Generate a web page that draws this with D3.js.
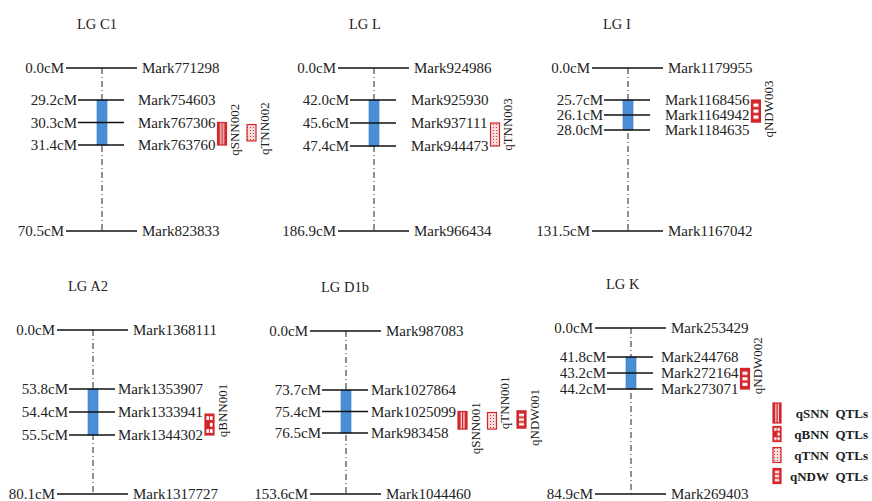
<!DOCTYPE html>
<html>
<head>
<meta charset="utf-8">
<script src="https://cdn.jsdelivr.net/npm/d3@7"></script>
<style>
  html, body { margin: 0; padding: 0; background: #fff; }
  svg { display: block; }
  text { font-family: "Liberation Serif", "Times New Roman", serif; fill: #222; }
</style>
</head>
<body>
<svg id="map" width="872" height="501"></svg>
<script>
// Linkage groups and their anchor markers (position in cM, marker name)
const groupTitles = ["LG C1", "LG L", "LG I", "LG A2", "LG D1b", "LG K"];
const markerCM = [
  [0.0, 29.2, 30.3, 31.4, 70.5],
  [0.0, 42.0, 45.6, 47.4, 186.9],
  [0.0, 25.7, 26.1, 28.0, 131.5],
  [0.0, 53.8, 54.4, 55.5, 80.1],
  [0.0, 73.7, 75.4, 76.5, 153.6],
  [0.0, 41.8, 43.2, 44.2, 84.9]
];
const markerNames = [
  ["Mark771298", "Mark754603", "Mark767306", "Mark763760", "Mark823833"],
  ["Mark924986", "Mark925930", "Mark937111", "Mark944473", "Mark966434"],
  ["Mark1179955", "Mark1168456", "Mark1164942", "Mark1184635", "Mark1167042"],
  ["Mark1368111", "Mark1353907", "Mark1333941", "Mark1344302", "Mark1317727"],
  ["Mark987083", "Mark1027864", "Mark1025099", "Mark983458", "Mark1044460"],
  ["Mark253429", "Mark244768", "Mark272164", "Mark273071", "Mark269403"]
];

// QTLs: name, linkage group index, trait, interval (cM)
const qtlNames = ["qSNN002", "qTNN002", "qTNN003", "qNDW003", "qBNN001", "qSNN001", "qTNN001", "qNDW001", "qNDW002"];
const qtlGroup = [0, 0, 1, 2, 3, 4, 4, 4, 5];
const qtlTrait = ["qSNN", "qTNN", "qTNN", "qNDW", "qBNN", "qSNN", "qTNN", "qNDW", "qNDW"];
const qtlFrom  = [30.3, 30.4, 45.6, 25.7, 54.5, 75.4, 75.45, 75.35, 42.8];
const qtlTo    = [31.4, 31.2, 47.4, 27.0, 55.5, 76.3, 76.3, 76.25, 44.2];

const traits = ["qSNN", "qBNN", "qTNN", "qNDW"];
const legendLabels = ["qSNN\u00a0\u00a0QTLs", "qBNN\u00a0\u00a0QTLs", "qTNN\u00a0\u00a0QTLs", "qNDW\u00a0\u00a0QTLs"];

// Panel layout: chromosome axis x, top/bottom marker y, offset of the first
// flanking marker, height of the marker cluster, gap before middle labels
const layout = [
  { x: 102, top: 68,  bottom: 231, gap: 32, span: 45, labelGap: 14 },
  { x: 374, top: 68,  bottom: 231, gap: 32, span: 46, labelGap: 15 },
  { x: 628, top: 68,  bottom: 231, gap: 32, span: 30, labelGap: 15 },
  { x: 93,  top: 330, bottom: 494, gap: 59, span: 46, labelGap: 3 },
  { x: 346, top: 331, bottom: 494, gap: 59, span: 43, labelGap: 3 },
  { x: 631, top: 328, bottom: 494, gap: 29, span: 32, labelGap: 8 }
];
const qtlLabelShift = { qSNN002: -4, qTNN002: -4, qTNN003: -10, qNDW003: -2, qBNN001: -14,
                        qSNN001: 8, qTNN001: -18, qNDW001: -2, qNDW002: -13 };

const RED = "#d3262b";
const BLUE = "#4a8fd5";

const svg = d3.select("#map");
const defs = svg.append("defs");

// Fill patterns for the four QTL traits
const pSNN = defs.append("pattern").attr("id", "pat-qSNN").attr("width", 1).attr("height", 1)
  .attr("patternContentUnits", "objectBoundingBox");
pSNN.append("rect").attr("width", 1).attr("height", 1).attr("fill", RED);
[0.3, 0.6].forEach(x => pSNN.append("rect").attr("x", x).attr("width", 0.12).attr("height", 1).attr("fill", "#fff"));

const pBNN = defs.append("pattern").attr("id", "pat-qBNN").attr("width", 1).attr("height", 1)
  .attr("patternContentUnits", "objectBoundingBox");
pBNN.append("rect").attr("width", 1).attr("height", 1).attr("fill", RED);
[[0.15, 0.1], [0.55, 0.1], [0.55, 0.42], [0.15, 0.72], [0.55, 0.72]].forEach(([x, y]) =>
  pBNN.append("rect").attr("x", x).attr("y", y).attr("width", 0.3).attr("height", 0.18).attr("fill", "#fff"));

const pTNN = defs.append("pattern").attr("id", "pat-qTNN").attr("width", 3).attr("height", 3)
  .attr("patternUnits", "userSpaceOnUse");
pTNN.append("rect").attr("width", 3).attr("height", 3).attr("fill", "#f8dede");
pTNN.append("circle").attr("cx", 1.5).attr("cy", 1.5).attr("r", 0.6).attr("fill", RED);

const pNDW = defs.append("pattern").attr("id", "pat-qNDW").attr("width", 1).attr("height", 1)
  .attr("patternContentUnits", "objectBoundingBox");
pNDW.append("rect").attr("width", 1).attr("height", 1).attr("fill", RED);
[0.16, 0.43, 0.7].forEach(y => pNDW.append("rect").attr("x", 0.22).attr("y", y).attr("width", 0.56).attr("height", 0.15).attr("fill", "#fff"));

groupTitles.forEach((title, gi) => {
  const L = layout[gi];
  const cms = markerCM[gi];
  const names = markerNames[gi];
  const g = svg.append("g");

  // Drawn positions follow marker order; intervals inside a cluster are linear in cM
  const idx = d3.scaleLinear().domain([0, 1, 3, 4])
    .range([L.top, L.top + L.gap, L.top + L.gap + L.span, L.bottom]);
  const y = d3.scaleLinear().domain(cms).range(cms.map((_, i) => idx(i)));

  g.append("text").attr("x", L.x - 25).attr("y", L.top - 39)
    .style("font-size", "14.5px").text(title);

  // chromosome backbone (dash-dot)
  g.append("line").attr("x1", L.x).attr("x2", L.x)
    .attr("y1", y(cms[0])).attr("y2", y(cms[cms.length - 1]))
    .attr("stroke", "#222").attr("stroke-width", 1)
    .attr("stroke-dasharray", "6,3,1,3");

  // QTL-rich region
  g.append("rect").attr("x", L.x - 5).attr("width", 10)
    .attr("y", y(cms[1])).attr("height", y(cms[3]) - y(cms[1]))
    .attr("fill", BLUE).attr("stroke", "#3a78b8").attr("stroke-width", 0.6);

  const isEnd = i => i === 0 || i === cms.length - 1;

  // marker ticks
  g.selectAll("line.tick").data(cms).join("line").attr("class", "tick")
    .attr("x1", (d, i) => isEnd(i) ? L.x - 36 : L.x - 24)
    .attr("x2", (d, i) => isEnd(i) ? L.x + 35 : L.x + 22)
    .attr("y1", d => y(d)).attr("y2", d => y(d))
    .attr("stroke", "#111").attr("stroke-width", 1.4);

  // positions (left)
  g.selectAll("text.pos").data(cms).join("text").attr("class", "pos")
    .attr("x", (d, i) => isEnd(i) ? L.x - 38 : L.x - 25)
    .attr("y", d => y(d)).attr("dy", "0.35em")
    .attr("text-anchor", "end").style("font-size", "15px")
    .text(d => d.toFixed(1) + "cM");

  // marker names (right)
  const nameText = g.selectAll("text.name").data(names).join("text").attr("class", "name")
    .attr("x", (d, i) => isEnd(i) ? L.x + 40 : L.x + 22 + L.labelGap)
    .attr("y", (d, i) => y(cms[i])).attr("dy", "0.35em")
    .style("font-size", "15px").text(d => d);

  // QTL boxes sit just right of the longest middle marker name
  let maxRight = 0;
  nameText.each(function (d, i) {
    if (!isEnd(i)) maxRight = Math.max(maxRight, (L.x + 22 + L.labelGap) + this.getComputedTextLength());
  });
  const qtls = qtlNames.map((n, k) => k).filter(k => qtlGroup[k] === gi);
  qtls.forEach((k, col) => {
    const bx = maxRight + 2 + col * 29.5;
    const y0 = y(qtlFrom[k]), y1 = y(qtlTo[k]);
    g.append("rect").attr("x", bx).attr("y", y0).attr("width", 9).attr("height", y1 - y0)
      .attr("fill", `url(#pat-${qtlTrait[k]})`).attr("stroke", RED).attr("stroke-width", 1.2);
    const cy = (y0 + y1) / 2 + (qtlLabelShift[qtlNames[k]] || 0);
    g.append("text").attr("transform", `translate(${bx + 17},${cy}) rotate(-90)`)
      .attr("text-anchor", "middle").attr("dy", "0.35em")
      .style("font-size", "13px").text(qtlNames[k]);
  });
});

// legend
const legend = svg.append("g").attr("transform", "translate(773,0)");
const legendY = d3.scalePoint().domain(traits).range([413, 476]);
traits.forEach((t, i) => {
  const h = i === 0 ? 20 : 15;
  legend.append("rect").attr("x", 0).attr("y", legendY(t) - h / 2).attr("width", 8).attr("height", h)
    .attr("fill", `url(#pat-${t})`).attr("stroke", RED).attr("stroke-width", 1.2);
  legend.append("text").attr("x", 95).attr("y", legendY(t)).attr("dy", "0.35em")
    .attr("text-anchor", "end")
    .style("font-size", "13px").style("font-weight", "bold").text(legendLabels[i]);
});
</script>
</body>
</html>
